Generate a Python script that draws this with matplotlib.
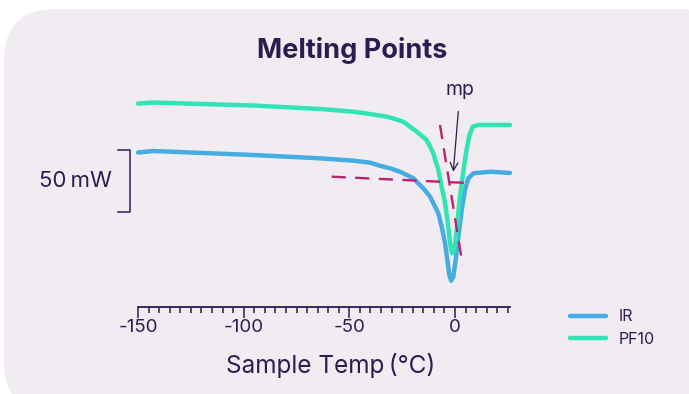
import numpy as np
import matplotlib.pyplot as plt
from matplotlib.patches import FancyBboxPatch

# DSC traces, temperature in degC, heat flow in mW (arbitrary baseline)
temp_pf10 = [-150.0, -142.9, -95.6, -63.9, -48.1, -40.2, -32.3, -28.4, -24.5, -18.1,
             -13.4, -10.3, -7.9, -6.3, -4.7, -3.6, -2.7, -1.9, -1.3, -0.3,
             0.8, 2.0, 3.6, 5.2, 6.8, 8.4, 11.0, 16.6, 26.0]
flow_pf10 = [164.1, 164.9, 162.5, 159.7, 157.5, 155.6, 153.5, 151.6, 149.4, 141.4,
             134.7, 124.2, 110.5, 97.0, 83.9, 70.2, 56.7, 46.0, 43.3, 46.0,
             62.1, 83.6, 105.1, 124.0, 138.7, 145.4, 146.8, 146.8, 146.8]

temp_ir = [-150.0, -142.9, -95.6, -63.9, -48.1, -40.2, -35.5, -30.8, -26.0, -19.7,
           -15.0, -11.8, -7.9, -6.3, -4.7, -3.6, -2.7, -1.8, -0.8, 0.3,
           1.6, 3.2, 4.7, 6.3, 8.7, 16.6, 26.0]
flow_ir = [124.6, 125.8, 122.6, 119.9, 118.0, 116.4, 113.9, 111.9, 109.1, 103.8,
           95.7, 89.0, 75.6, 64.8, 51.4, 37.9, 25.8, 21.2, 24.4, 37.9,
           56.7, 78.2, 94.4, 103.8, 107.8, 109.1, 108.1]

# tangent construction lines for the onset
base_t = [-58.4, 6.2]
base_f = [105.1, 100.0]
slope_t = [-7.1, 3.6]
slope_f = [146.8, 33.9]

mp_point = (-0.8, 109.1)
mp_label = (2.4, 175.0)

scale_x = -153.8
scale_lo, scale_hi = 76.6, 126.6

major_ticks = [-150, -100, -50, 0]
minor_ticks = np.arange(-150, 30, 5)

txt = '#2b1d4f'
blue = '#46ade2'
green = '#31e3b5'
magenta = '#b8246f'

plt.rcParams['font.family'] = ['Inter', 'DejaVu Sans']

fig = plt.figure(figsize=(6.89, 3.94), dpi=100)
fig.patch.set_facecolor('white')
panel = FancyBboxPatch((4 / 689, -0.05), (689 - 4 + 40) / 689, (394 - 9) / 394 + 0.05,
                       boxstyle='round,pad=0,rounding_size=0.075',
                       transform=fig.transFigure, facecolor='#f1ecf2', edgecolor='none',
                       mutation_aspect=689 / 394, zorder=-10)
fig.patches.append(panel)

ax = fig.add_axes([0, 0, 1, 1])
ax.set_facecolor('none')
ax.set_xlim((0 - 455) / 2.113, (689 - 455) / 2.113)
ax.set_ylim((307 - 394) / 1.24, 307 / 1.24)

ax.plot(temp_ir, flow_ir, color=blue, lw=3.2, solid_capstyle='round', solid_joinstyle='round', label='IR')
ax.plot(temp_pf10, flow_pf10, color=green, lw=3.2, solid_capstyle='round', solid_joinstyle='round', label='PF10')
ax.plot(base_t, base_f, color=magenta, lw=1.7, dashes=(6, 4))
ax.plot(slope_t, slope_f, color=magenta, lw=1.7, dashes=(6, 4))

ax.annotate('mp', xy=mp_point, xytext=mp_label, ha='center', va='center',
            fontsize=14, color=txt,
            arrowprops=dict(arrowstyle='->', color=txt, lw=0.9, shrinkA=7, shrinkB=0))

# 50 mW scale bar
ax.plot([scale_x - 5.7, scale_x, scale_x, scale_x - 5.7],
        [scale_hi, scale_hi, scale_lo, scale_lo], color=txt, lw=1.1)
ax.text(scale_x - 8.8, (scale_hi + scale_lo) / 2, '50\u2009mW', ha='right', va='center',
        fontsize=16, color=txt)

for s in ['top', 'right', 'left']:
    ax.spines[s].set_visible(False)
ax.spines['bottom'].set_position(('data', 0))
ax.spines['bottom'].set_bounds(-150, 26)
ax.spines['bottom'].set_color(txt)
ax.spines['bottom'].set_linewidth(1.3)
ax.set_yticks([])
ax.set_xticks(major_ticks)
ax.set_xticklabels([str(t) for t in major_ticks])
ax.set_xticks(minor_ticks, minor=True)
ax.tick_params(axis='x', which='major', length=8, width=1.1, color=txt, labelcolor=txt,
               labelsize=13.5, pad=1)
ax.tick_params(axis='x', which='minor', length=4.5, width=1.1, color=txt)

ax.text(-59, -47, 'Sample Temp\u2009(°C)', ha='center', va='center', fontsize=17.5, color=txt)
fig.text(352 / 689, 1 - 50 / 394, 'Melting Points', ha='center', va='center',
         fontsize=19.5, fontweight='bold', color=txt)

ax.legend(loc='center left', bbox_to_anchor=(556 / 689, 1 - 328 / 394), frameon=False,
          fontsize=11.5, labelcolor=txt, handlelength=2.2, handletextpad=0.8, labelspacing=0.45)

fig.savefig('out.png', dpi=100)
